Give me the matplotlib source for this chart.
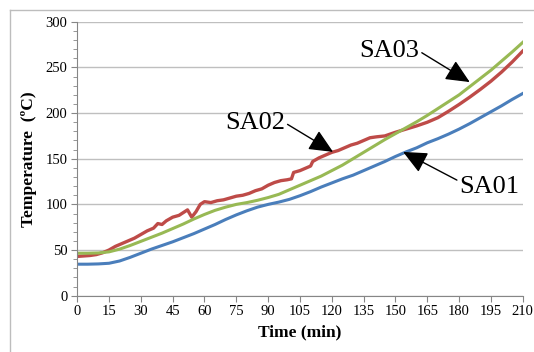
import matplotlib.pyplot as plt
from matplotlib.lines import Line2D

plt.rcParams['font.family'] = ['Liberation Serif', 'DejaVu Serif']

# SA01 and SA03 sampled every 5 min
time_5 = list(range(0, 215, 5))
sa01 = [34.5, 34.5, 34.8, 35.5, 38, 42, 46.5, 51, 55, 59, 63.5, 68, 73, 78,
        83.5, 88.5, 93, 97, 100, 102.5, 105.5, 109.5, 114, 119, 123.5, 128,
        132, 137, 142, 147, 152.5, 157.5, 162, 167.5, 172, 177, 182.5, 188.5,
        195, 201.5, 208, 215, 221.5]
sa03 = [46.5, 46.5, 46.8, 48, 51, 55, 59.5, 64, 68.5, 73.5, 78.5, 84, 89,
        93.5, 97, 100, 102, 104.5, 107.5, 111, 116, 121, 126, 131, 137, 143,
        150, 157, 164, 171, 177.5, 184, 190.5, 197.5, 205, 212.5, 220, 229,
        238, 247, 257, 267, 277.5]

# SA02 is noisier, so it is sampled more densely
time_sa02 = [0, 3, 6, 9, 12, 15, 18, 21, 24, 27, 30, 33, 36, 38, 40, 42, 45,
             48, 50, 52, 54, 56, 58, 60, 63, 66, 69, 72, 75, 78, 81, 84, 87,
             90, 93, 96, 99, 101, 102, 105, 108, 110, 111, 114, 117, 120, 123,
             126, 129, 132, 135, 138, 141, 145, 150, 155, 160, 165, 170, 175,
             180, 185, 190, 195, 200, 205, 210]
sa02 = [43, 43.5, 44, 45, 47, 50, 54, 57, 60, 63, 67, 71, 74, 79, 78, 82, 86,
        88, 91, 94, 86, 92, 100, 103, 102, 104, 105, 107, 109, 110, 112, 115,
        117, 121, 124, 126, 127, 128, 135, 137, 140, 142, 147, 151, 154, 157,
        159, 162, 165, 167, 170, 173, 174, 175, 179, 182.5, 186, 190, 195,
        202, 209.5, 217.5, 226, 235, 245, 256, 268]

fig = plt.figure(figsize=(5.34, 3.52), dpi=100)
ax = fig.add_axes([0.1445, 0.16, 0.8345, 0.778])

ax.plot(time_5, sa01, color='#4a7ebb', lw=2.2)
ax.plot(time_sa02, sa02, color='#be4b48', lw=2.4)
ax.plot(time_5, sa03, color='#98b954', lw=2.2)

ax.set_xlim(0, 210)
ax.set_ylim(0, 300)
ax.set_xticks(range(0, 211, 15))
ax.set_yticks(range(0, 301, 50))
ax.set_yticks(range(0, 301, 10), minor=True)
ax.grid(axis='y', which='major', color='#bfbfbf', lw=1)
ax.set_axisbelow(True)

for side in ['top', 'right']:
    ax.spines[side].set_visible(False)
for side in ['left', 'bottom']:
    ax.spines[side].set_color('#868686')
ax.tick_params(axis='both', which='major', direction='out', length=4,
               color='#868686', labelsize=10.5, pad=3)
ax.tick_params(axis='y', which='minor', direction='out', length=3,
               color='#868686')

ax.set_xlabel('Time (min)', fontsize=12.5, fontweight='bold', labelpad=4)
ax.set_ylabel('Temperature  (ºC)', fontsize=12.5, fontweight='bold', labelpad=6)

arrow = dict(arrowstyle='-|>,head_length=0.7,head_width=0.32', color='black',
             lw=1, mutation_scale=21, shrinkA=0, shrinkB=0)
ax.annotate('SA03', xy=(185, 234), xytext=(147, 268), fontsize=19,
            ha='center', va='center',
            arrowprops=dict(arrow, relpos=(1, 0.5)))
ax.annotate('SA02', xy=(120.6, 157.5), xytext=(83.7, 189.5), fontsize=19,
            ha='center', va='center',
            arrowprops=dict(arrow, relpos=(1, 0.5)))
ax.annotate('SA01', xy=(153.6, 157.5), xytext=(194.4, 119), fontsize=19,
            ha='center', va='center',
            arrowprops=dict(arrow, relpos=(0, 0.75)))

# chart frame on the left and top
fig.add_artist(Line2D([9.5 / 534, 9.5 / 534], [0, 1 - 9.5 / 352],
                      color='#bdbdbd', lw=1))
fig.add_artist(Line2D([9.5 / 534, 1], [1 - 9.5 / 352, 1 - 9.5 / 352],
                      color='#bdbdbd', lw=1))

fig.savefig('out.png', dpi=100)
